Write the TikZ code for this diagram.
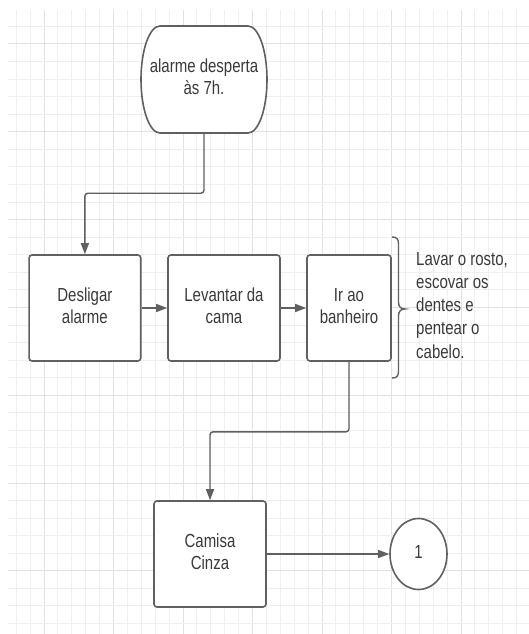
\documentclass[tikz,border=0pt]{standalone}
\usepackage{fontspec}
\setmainfont{Liberation Sans}
\usetikzlibrary{arrows.meta,shapes.geometric}
\definecolor{ln}{HTML}{606060}
\definecolor{tx}{HTML}{3A3A3A}
\definecolor{gmin}{HTML}{EFEFEF}
\definecolor{gmaj}{HTML}{E2E2E2}
\newcommand\vtext[1]{\scalebox{1}[1.26]{\begin{tabular}{@{}c@{}}#1\end{tabular}}}
\newcommand\vtextl[1]{\scalebox{1}[1.26]{\begin{tabular}{@{}l@{}}#1\end{tabular}}}
\begin{document}
\begin{tikzpicture}[x=1pt,y=-1pt,
  box/.style={draw=ln, line width=1.6pt, rounded corners=3pt, fill=white, inner sep=0pt,
    text=tx, font=\fontsize{15}{17.5}\selectfont, minimum height=106pt},
  plain/.style={inner sep=0pt, text=tx, font=\fontsize{15}{17.5}\selectfont},
  conn/.style={draw=ln, line width=1.4pt, rounded corners=3pt, -{Triangle[length=11pt,width=8pt]}},
  gminor/.style={draw=gmin, line width=0.9pt},
  gmajor/.style={draw=gmaj, line width=1pt}]
\useasboundingbox (0,0) rectangle (529,634);
\fill[white] (0,0) rectangle (529,634);
% grid
\begin{scope}
\clip (8,10.5) rectangle (529,634);
\foreach \i in {-2,...,34} {
  \pgfmathsetmacro\gx{44+\i*13.9}
  \pgfmathtruncatemacro\m{mod(\i+100,5)}
  \ifnum\m=0 \draw[gmajor] (\gx,10.5) -- (\gx,634); \else \draw[gminor] (\gx,10.5) -- (\gx,634); \fi
}
\foreach \j in {-1,...,34} {
  \pgfmathsetmacro\gy{44+\j*17.56}
  \pgfmathtruncatemacro\m{mod(\j+100,5)}
  \ifnum\m=0 \draw[gmajor] (8,\gy) -- (529,\gy); \else \draw[gminor] (8,\gy) -- (529,\gy); \fi
}
\end{scope}
% top terminator
\draw[draw=ln, line width=1.6pt, fill=white] (160,26) -- (248,26)
  arc[start angle=-90, end angle=90, x radius=19, y radius=53.5] -- (160,133)
  arc[start angle=90, end angle=270, x radius=19, y radius=53.5] -- cycle;
\node[plain, minimum width=126pt, minimum height=107pt] (top) at (204,79.5) {\vtext{alarme desperta\\às 7h.}};
% boxes
\node[box, minimum width=111.7pt] (b1) at (84.9,308) {\vtext{Desligar\\alarme}};
\node[box, minimum width=112pt] (b2) at (224,308) {\vtext{Levantar da\\cama}};
\node[box, minimum width=84pt] (b3) at (349,308) {\vtext{Ir ao\\banheiro}};
\node[box, minimum width=112pt] (b4) at (210,554) {\vtext{Camisa\\Cinza}};
\node[ellipse, draw=ln, line width=1.6pt, fill=white, inner sep=0pt, text=tx,
  font=\fontsize{15}{17.5}\selectfont, minimum width=57pt, minimum height=71pt] (c1) at (418.5,554) {\vtext{1}};
% brace
\draw[draw=ln, line width=1.4pt] (392,237) .. controls (397,237) and (398.5,239) .. (398.5,244)
  -- (398.5,302) .. controls (398.5,307) and (401,309) .. (405,309)
  .. controls (401,309) and (398.5,311) .. (398.5,316)
  -- (398.5,371) .. controls (398.5,376) and (397,378) .. (392,378);
\node[plain, anchor=west, font=\fontsize{15}{18.5}\selectfont] (note) at (416,307)
  {\vtextl{Lavar o rosto,\\escovar os\\dentes e\\pentear o\\cabelo.}};
% connectors
\draw[conn] (top.south) -- ++(0,60) -| (b1.north);
\draw[conn] (b1.east) -- (b2.west);
\draw[conn] (b2.east) -- (b3.west);
\draw[conn] (b3.south) -- ++(0,70) -| (b4.north);
\draw[conn] (b4.east) -- (c1.west);
\end{tikzpicture}
\end{document}
